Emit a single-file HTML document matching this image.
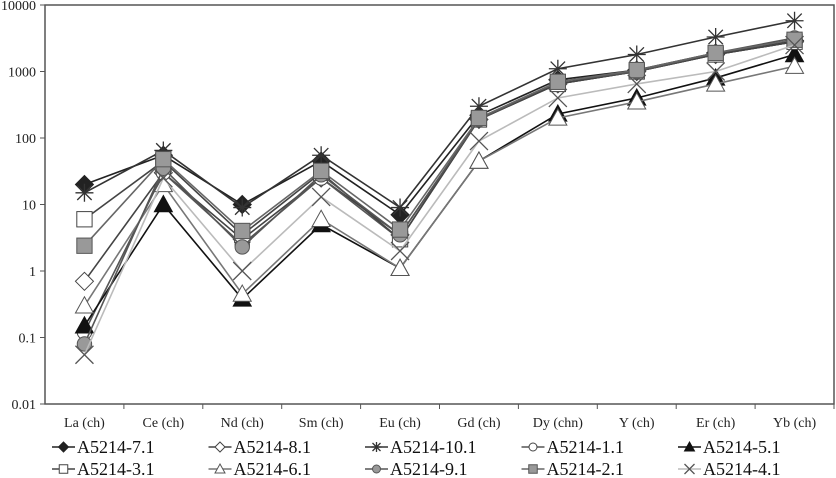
<!DOCTYPE html>
<html><head><meta charset="utf-8"><style>
body{margin:0;background:#fff}
svg{display:block;font-family:"Liberation Serif",serif}
</style></head><body>
<svg id="chart" width="836" height="478" viewBox="0 0 836 478" xmlns="http://www.w3.org/2000/svg">
<g id="plot"></g>
</svg>
<script>
const categories=["La (ch)","Ce (ch)","Nd (ch)","Sm (ch)","Eu (ch)","Gd (ch)","Dy (chn)","Y (ch)","Er (ch)","Yb (ch)"];
const yTicks=[0.01,0.1,1,10,100,1000,10000];
const yTickLabels=["0.01","0.1","1","10","100","1000","10000"];
const seriesNames=["A5214-7.1","A5214-8.1","A5214-10.1","A5214-1.1","A5214-5.1","A5214-3.1","A5214-6.1","A5214-9.1","A5214-2.1","A5214-4.1"];
const s71=[20,55,10,45,7,220,750,1050,1900,2900];
const s81=[0.7,30,3,25,3.5,190,650,1000,1800,2800];
const s101=[15,65,9,55,9,300,1100,1800,3300,5800];
const s11=[0.12,30,2.5,25,3,190,650,1000,1800,2800];
const s51=[0.15,10,0.38,5,1.1,45,230,400,800,1800];
const s31=[6,45,3.5,30,3,190,650,1000,1800,2800];
const s61=[0.3,20,0.45,6,1.1,45,200,350,650,1200];
const s91=[0.08,35,2.3,28,3.5,190,700,1000,1900,3200];
const s21=[2.4,48,4,32,4.2,200,700,1050,1900,3000];
const s41=[0.055,25,1,13,2,90,400,650,1000,2500];
const allSeries=[s71,s81,s101,s11,s51,s31,s61,s91,s21,s41];
const markers=["diamondF","diamondO","star","circleO","triF","squareO","triO","circleG","squareG","x"];
const lineColors=["#222","#444","#333","#555","#111","#444","#777","#555","#666","#bbb"];

const NS="http://www.w3.org/2000/svg";
const L=45,R=834,T=5,B=404;
const step=(R-L)/categories.length;
function xPos(i){return L+step*(i+0.5);}
function yPos(v){return B-(Math.log10(v)+2)/6*(B-T);}
const g=document.getElementById('plot');
function mk(tag,a,parent){const e=document.createElementNS(NS,tag);for(const k in a)e.setAttribute(k,a[k]);(parent||g).appendChild(e);return e;}

const frame=mk('rect',{x:L,y:T,width:R-L,height:B-T,fill:'none',stroke:'#555','stroke-width':1.5});


yTicks.forEach((t,i)=>{
  const y=yPos(t);
  const tk=mk('line',{x1:L-5,x2:L,y1:y,y2:y,stroke:'#555'});
  
  
  const tx=mk('text',{x:L-9,y:y+5,'text-anchor':'end','font-size':14,fill:'#222'});
  tx.textContent=yTickLabels[i];
  
  
});
categories.forEach((c,i)=>{
  const xb=L+step*(i+1);
  const tk=mk('line',{x1:xb,x2:xb,y1:B,y2:B+5,stroke:'#555'});
  
  
  const tx=mk('text',{x:xPos(i),y:427,'text-anchor':'middle','font-size':14,fill:'#222'});
  tx.textContent=c;
  
  
});
function drawMarker(type,x,y,s,parent){
  const p=parent;
  let e;
  switch(type){
    case 'diamondF':e=mk('polygon',{points:`${x},${y-s} ${x+s},${y} ${x},${y+s} ${x-s},${y}`,fill:'#222',stroke:'#222'},p);break;
    case 'diamondO':e=mk('polygon',{points:`${x},${y-s} ${x+s},${y} ${x},${y+s} ${x-s},${y}`,fill:'#fff',stroke:'#444'},p);break;
    case 'circleO':e=mk('circle',{cx:x,cy:y,r:s*0.8,fill:'#fff',stroke:'#444'},p);break;
    case 'circleG':e=mk('circle',{cx:x,cy:y,r:s*0.8,fill:'#999',stroke:'#555'},p);break;
    case 'squareO':e=mk('rect',{x:x-s*0.85,y:y-s*0.85,width:s*1.7,height:s*1.7,fill:'#fff',stroke:'#444'},p);break;
    case 'squareG':e=mk('rect',{x:x-s*0.85,y:y-s*0.85,width:s*1.7,height:s*1.7,fill:'#999',stroke:'#555'},p);break;
    case 'triF':e=mk('polygon',{points:`${x},${y-s} ${x+s},${y+s*0.8} ${x-s},${y+s*0.8}`,fill:'#111',stroke:'#111'},p);break;
    case 'triO':e=mk('polygon',{points:`${x},${y-s} ${x+s},${y+s*0.8} ${x-s},${y+s*0.8}`,fill:'#fff',stroke:'#555'},p);break;
    case 'star':e=mk('path',{d:`M${x-s},${y}H${x+s}M${x},${y-s}V${y+s}M${x-s*0.8},${y-s*0.8}L${x+s*0.8},${y+s*0.8}M${x-s*0.8},${y+s*0.8}L${x+s*0.8},${y-s*0.8}`,stroke:'#333','stroke-width':1.3,fill:'none'},p);break;
    case 'x':e=mk('path',{d:`M${x-s},${y-s}L${x+s},${y+s}M${x-s},${y+s}L${x+s},${y-s}`,stroke:'#555','stroke-width':1.3,fill:'none'},p);break;
  }
  
  
}
allSeries.forEach((vals,si)=>{
  const sg=mk('g',{});
  
  
  const pts=vals.map((v,i)=>xPos(i)+','+yPos(v)).join(' ');
  const ln=mk('polyline',{points:pts,fill:'none',stroke:lineColors[si],'stroke-width':1.6},sg);
  
  
  vals.forEach((v,i)=>drawMarker(markers[si],xPos(i),yPos(v),9,sg));
});
seriesNames.forEach((n,si)=>{
  const col=si%5,row=Math.floor(si/5);
  const x0=52+col*156.5,y0=447+row*22;
  const lg=mk('g',{});
  
  
  mk('line',{x1:x0,x2:x0+23,y1:y0,y2:y0,stroke:lineColors[si],'stroke-width':1.6},lg);
  drawMarker(markers[si],x0+11.5,y0,5,lg);
  const t=mk('text',{x:x0+25,y:y0+6,'font-size':18,fill:'#111'},lg);
  t.textContent=n;
});
</script>
</body></html>
